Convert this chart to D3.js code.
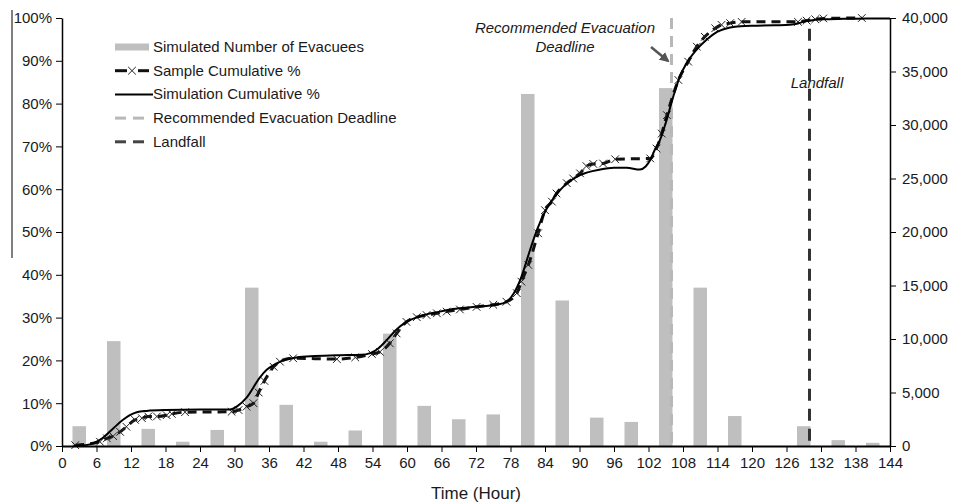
<!DOCTYPE html>
<html lang="en">
<head>
<meta charset="utf-8">
<style>
  body { margin: 0; background: #fff; }
  svg text { font-family: "Liberation Sans", Arial, sans-serif; fill: #1a1a1a; }
  .axis path, .axis line { stroke: #000; }
  .axis text { font-size: 15px; }
</style>
</head>
<body>
<script src="https://cdn.jsdelivr.net/npm/d3@7"></script>
<script>
// bars: simulated number of evacuees per 6-hour bin (centre hour)
var binHours = [3, 9, 15, 21, 27, 33, 39, 45, 51, 57, 63, 69, 75, 81, 87, 93, 99, 105, 111, 117, 123, 129, 135, 141];
var evacuees = [1850, 9800, 1600, 400, 1500, 14800, 3850, 400, 1450, 10500, 3750, 2500, 2950, 32900, 13600, 2650, 2250, 33450, 14800, 2800, 0, 1850, 550, 300];

// sample cumulative %
var sampleHours = [2.3, 6.6, 7.8, 8.9, 10.1, 11.2, 12.7, 13.9, 15, 16.5, 18.2, 19.1, 21.4, 29.5, 30.7, 32.1, 33.3, 34.2, 35.2, 36.8, 37.9, 40.2, 47.8, 51, 53.9, 55.3, 57, 58.2, 59.9, 61.7, 63.4, 65.2, 66.9, 69.2, 72.1, 75, 77.3, 79.1, 79.9, 81.1, 82.8, 84, 85.2, 86, 87.8, 88.9, 90.1, 91.2, 92.4, 94.1, 96.2, 102.3, 103.4, 104.3, 105.2, 107.2, 108.9, 110.4, 111.8, 113.6, 114.7, 116.2, 118.2, 128, 129.5, 131, 132.4, 139.1];
var samplePct = [0.2, 1, 1.8, 2.3, 3.3, 4.5, 6.1, 6.5, 6.9, 6.9, 7.2, 7.5, 7.9, 8, 8.4, 9.2, 10, 12.5, 15.2, 18.5, 19.7, 20.5, 20.3, 20.7, 21.5, 22, 24, 26.3, 29, 30.1, 30.6, 31, 31.4, 31.9, 32.5, 33, 33.7, 35.7, 38.4, 42.3, 49.7, 55.1, 57.1, 59, 61.4, 62.5, 63.7, 65.4, 65.9, 66, 67, 67.2, 69.5, 73, 77.3, 85.5, 89.8, 93.3, 95.6, 97.6, 98.4, 98.8, 99.1, 99.1, 99.4, 99.7, 99.9, 100];

// simulation cumulative %
var simHours = [2, 3.5, 5.4, 7, 8.9, 10.5, 11.8, 13, 14.7, 18, 24, 29.2, 30.5, 32.1, 34.4, 35.6, 36.8, 38.5, 40.8, 44, 48.3, 52, 53.6, 55, 56.5, 58, 59.9, 62, 65.7, 68, 71.5, 75.6, 77.3, 78.5, 79.7, 81.4, 82.6, 84.3, 86, 87.2, 90.1, 93.6, 96, 98.2, 100.5, 101.5, 102.3, 103.2, 104, 105, 106.3, 107.5, 108.6, 110.3, 112.1, 114, 116.2, 118, 120.8, 124, 126.6, 128, 128.9, 130.5, 132.4, 136, 140, 144];
var simPct = [0, 0.1, 0.6, 1.8, 4.1, 6, 7.2, 7.9, 8.2, 8.4, 8.5, 8.5, 9.3, 11.3, 16, 17.8, 18.9, 20, 20.7, 21, 21.2, 21.3, 21.7, 22.8, 24.8, 27, 29, 30.2, 31.4, 32, 32.5, 33, 33.7, 35.5, 38.8, 45.8, 50.5, 55.5, 58.8, 60.6, 63.3, 64.6, 65, 65, 64.6, 65.3, 66.8, 69.5, 71.5, 75.5, 81.6, 86.5, 89.4, 92.5, 94.9, 96.8, 97.8, 98.1, 98.2, 98.3, 98.4, 98.7, 99.1, 99.5, 99.7, 99.8, 99.9, 99.9];

var deadlineHour = 106;
var landfallHour = 130;

var xTicks = d3.range(0, 145, 6);
var pctTicks = [0, 10, 20, 30, 40, 50, 60, 70, 80, 90, 100];
var countTicks = [0, 5000, 10000, 15000, 20000, 25000, 30000, 35000, 40000];

var legendNames = ["Simulated Number of Evacuees", "Sample Cumulative %", "Simulation Cumulative %", "Recommended Evacuation Deadline", "Landfall"];

var W = 958, H = 504;
var m = {left: 62, right: 68, top: 18, bottom: 58};

var svg = d3.select("body").append("svg")
    .attr("width", W).attr("height", H);

var x = d3.scaleLinear().domain([0, 144]).range([m.left, W - m.right]);
var yP = d3.scaleLinear().domain([0, 100]).range([H - m.bottom, m.top]);
var yC = d3.scaleLinear().domain([0, 40000]).range([H - m.bottom, m.top]);

var barW = x(2.35) - x(0);

// stray rule at the far left
svg.append("line")
    .attr("x1", 12).attr("x2", 12)
    .attr("y1", 10).attr("y2", 258)
    .attr("stroke", "#000").attr("stroke-width", 1);

// bars
svg.append("g").selectAll("rect")
    .data(binHours)
    .join("rect")
    .attr("x", function(d) { return x(d) - barW / 2; })
    .attr("y", function(d, i) { return yC(evacuees[i]); })
    .attr("width", barW)
    .attr("height", function(d, i) { return yC(0) - yC(evacuees[i]); })
    .attr("fill", "#bfbfbf");

// vertical event lines
svg.append("line")
    .attr("x1", x(deadlineHour)).attr("x2", x(deadlineHour))
    .attr("y1", yP(100)).attr("y2", yP(0))
    .attr("stroke", "#b8b8b8").attr("stroke-width", 3)
    .attr("stroke-dasharray", "11,7");

svg.append("line")
    .attr("x1", x(landfallHour)).attr("x2", x(landfallHour))
    .attr("y1", yP(97.5)).attr("y2", yP(0))
    .attr("stroke", "#333").attr("stroke-width", 3)
    .attr("stroke-dasharray", "12,8");

// sample cumulative (dashed + x markers)
var sample = sampleHours.map(function(h, i) { return [h, samplePct[i]]; });
var sim = simHours.map(function(h, i) { return [h, simPct[i]]; });

var line = d3.line()
    .x(function(d) { return x(d[0]); })
    .y(function(d) { return yP(d[1]); })
    .curve(d3.curveMonotoneX);

svg.append("path")
    .datum(sample)
    .attr("d", line)
    .attr("fill", "none")
    .attr("stroke", "#111").attr("stroke-width", 3)
    .attr("stroke-dasharray", "9,6");

var cross = d3.symbol().type(d3.symbolX).size(40);
svg.append("g").selectAll("path")
    .data(sample)
    .join("path")
    .attr("transform", function(d) { return "translate(" + x(d[0]) + "," + yP(d[1]) + ")"; })
    .attr("d", cross)
    .attr("fill", "none")
    .attr("stroke", "#222").attr("stroke-width", 1);

// simulation cumulative (solid)
svg.append("path")
    .datum(sim)
    .attr("d", line)
    .attr("fill", "none")
    .attr("stroke", "#000").attr("stroke-width", 2);

// axes
var xAxis = svg.append("g").attr("class", "axis")
    .attr("transform", "translate(0," + yP(0) + ")")
    .call(d3.axisBottom(x).tickValues(xTicks).tickSize(6).tickPadding(5).tickSizeOuter(0));
xAxis.select(".domain").attr("stroke-width", 2);

var yAxisL = svg.append("g").attr("class", "axis")
    .attr("transform", "translate(" + x(0) + ",0)")
    .call(d3.axisLeft(yP).tickValues(pctTicks).tickFormat(function(d) { return d + "%"; })
          .tickSize(6).tickPadding(4).tickSizeOuter(0));
yAxisL.select(".domain").attr("stroke-width", 1.5);

var yAxisR = svg.append("g").attr("class", "axis")
    .attr("transform", "translate(" + x(144) + ",0)")
    .call(d3.axisRight(yC).tickValues(countTicks).tickFormat(d3.format(","))
          .tickSize(6).tickPadding(6).tickSizeOuter(0));
yAxisR.select(".domain").attr("stroke-width", 1.5);

svg.append("text")
    .attr("x", 476).attr("y", 499)
    .attr("text-anchor", "middle")
    .style("font-size", "17px")
    .text("Time (Hour)");

// annotations
var ann = svg.append("g").style("font-style", "italic").style("font-size", "15px");
ann.append("text").attr("x", 565).attr("y", 33).attr("text-anchor", "middle").text("Recommended Evacuation");
ann.append("text").attr("x", 565).attr("y", 52).attr("text-anchor", "middle").text("Deadline");
ann.append("text").attr("x", 817).attr("y", 88).attr("text-anchor", "middle").text("Landfall");

svg.append("defs").append("marker")
    .attr("id", "arr").attr("viewBox", "0 0 10 10")
    .attr("refX", 8).attr("refY", 5)
    .attr("markerWidth", 4).attr("markerHeight", 4)
    .attr("orient", "auto")
    .append("path").attr("d", "M0,0L10,5L0,10z").attr("fill", "#555");

svg.append("line")
    .attr("x1", 651).attr("y1", 47)
    .attr("x2", 668).attr("y2", 61)
    .attr("stroke", "#555").attr("stroke-width", 2.5)
    .attr("marker-end", "url(#arr)");

// legend
var lg = svg.append("g").attr("transform", "translate(115,47)");
var rowH = 23.7;
legendNames.forEach(function(name, i) {
    var g = lg.append("g").attr("transform", "translate(0," + (i * rowH) + ")");
    if (i === 0) {
        g.append("rect").attr("x", 0).attr("y", -3.5).attr("width", 34).attr("height", 7).attr("fill", "#bfbfbf");
    } else if (i === 1) {
        g.append("line").attr("x1", 0).attr("x2", 12).attr("stroke", "#111").attr("stroke-width", 3);
        g.append("line").attr("x1", 23).attr("x2", 34).attr("stroke", "#111").attr("stroke-width", 3);
        g.append("path").attr("transform", "translate(17,0)").attr("d", cross)
            .attr("fill", "none").attr("stroke", "#222").attr("stroke-width", 1);
    } else if (i === 2) {
        g.append("line").attr("x1", 0).attr("x2", 38).attr("stroke", "#000").attr("stroke-width", 2);
    } else {
        var c = i === 3 ? "#b8b8b8" : "#444";
        g.append("line").attr("x1", 0).attr("x2", 11).attr("stroke", c).attr("stroke-width", 3);
        g.append("line").attr("x1", 18).attr("x2", 29).attr("stroke", c).attr("stroke-width", 3);
    }
    g.append("text").attr("x", 38).attr("y", 5).style("font-size", "15px").text(name);
});
</script>
</body>
</html>
